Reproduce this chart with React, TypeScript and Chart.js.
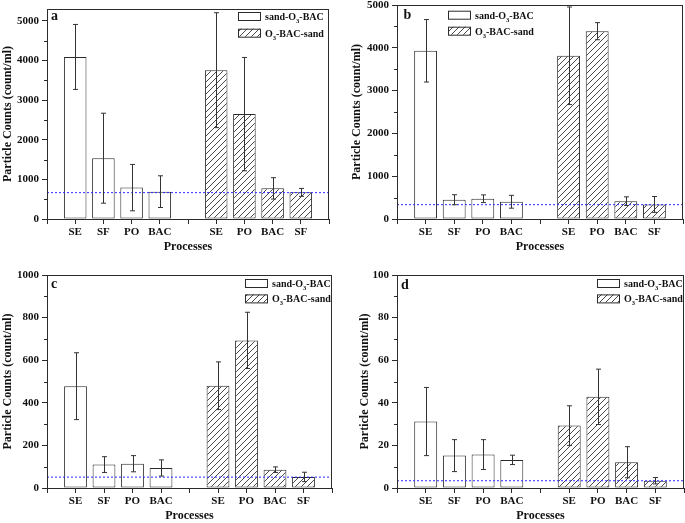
import React, { useEffect, useRef } from 'react';
import { Chart, registerables } from 'chart.js';
Chart.register(...registerables);

// ---------- data ----------
const categories = ['SE', 'SF', 'PO', 'BAC', 'SE', 'PO', 'BAC', 'SF'];
const seriesNames = ['sand-O3-BAC', 'O3-BAC-sand'];
const panelLabels = ['a', 'b', 'c', 'd'];
const yTitle = 'Particle Counts (count/ml)';
const xTitle = 'Processes';

const aSand = [4090, 1535, 792, 690];
const aSandErr = [820, 1135, 585, 400];
const aO3 = [3756, 2647, 773, 672];
const aO3Err = [1450, 1430, 270, 100];
const aLimit = 665;
const aTicks = [0, 1000, 2000, 3000, 4000, 5000];

const bSand = [3930, 450, 473, 403];
const bSandErr = [730, 117, 90, 150];
const bO3 = [3814, 4388, 417, 340];
const bO3Err = [1140, 200, 100, 185];
const bLimit = 335;
const bTicks = [0, 1000, 2000, 3000, 4000, 5000];

const cSand = [478, 110, 114, 94];
const cSandErr = [157, 37, 38, 38];
const cO3 = [480, 693, 86, 52];
const cO3Err = [112, 132, 13, 22];
const cLimit = 51;
const cTicks = [0, 200, 400, 600, 800, 1000];

const dSand = [31.2, 15.2, 15.7, 13.2];
const dSandErr = [16, 7.5, 7, 2.2];
const dO3 = [29.3, 42.8, 12.1, 3.4];
const dO3Err = [9.3, 13, 7.3, 1.5];
const dLimit = 3.4;
const dTicks = [0, 20, 40, 60, 80, 100];

// x positions: blank, 4 sand categories, blank, 4 O3 categories, blank
const xLabels = ['', ...categories.slice(0, 4), '', ...categories.slice(4), ''];
const padSand = (arr: number[]) => [null, ...arr, null, null, null, null, null, null];
const padO3 = (arr: number[]) => [null, null, null, null, null, null, ...arr, null];

const FONT = "'Liberation Serif', 'Times New Roman', serif";
const INK = '#2b2b2b';

const panels = [
  {
    label: panelLabels[0], sand: aSand, sandErr: aSandErr, o3: aO3, o3Err: aO3Err, limit: aLimit,
    ticks: aTicks, yMax: 5300,
    box: { x: 0, y: 0, w: 342, h: 260 }, area: { l: 47, t: 9, r: 329, b: 219 },
    yTitlePad: 1, xTitlePad: 5.8, legend: { x: 238, y: 12, dy: 16.7 }, tag: { x: 51, y: 19.5 },
  },
  {
    label: panelLabels[1], sand: bSand, sandErr: bSandErr, o3: bO3, o3Err: bO3Err, limit: bLimit,
    ticks: bTicks, yMax: 5000,
    box: { x: 342, y: 0, w: 343, h: 260 }, area: { l: 55, t: 5, r: 341, b: 219 },
    yTitlePad: 7.3, xTitlePad: 5.5, legend: { x: 106, y: 10.7, dy: 16 }, tag: { x: 61.5, y: 19 },
  },
  {
    label: panelLabels[2], sand: cSand, sandErr: cSandErr, o3: cO3, o3Err: cO3Err, limit: cLimit,
    ticks: cTicks, yMax: 1000,
    box: { x: 0, y: 260, w: 342, h: 263 }, area: { l: 47, t: 15, r: 332, b: 228 },
    yTitlePad: 1, xTitlePad: 0, legend: { x: 245, y: 19, dy: 15.4 }, tag: { x: 51, y: 27.5 },
  },
  {
    label: panelLabels[3], sand: dSand, sandErr: dSandErr, o3: dO3, o3Err: dO3Err, limit: dLimit,
    ticks: dTicks, yMax: 100,
    box: { x: 342, y: 260, w: 343, h: 263 }, area: { l: 55, t: 15, r: 342, b: 228 },
    yTitlePad: 15.8, xTitlePad: 0, legend: { x: 255, y: 19, dy: 15.4 }, tag: { x: 59, y: 29 },
  },
];

function makeHatch(): CanvasPattern | string {
  const c = document.createElement('canvas');
  c.width = 6;
  c.height = 6;
  const g = c.getContext('2d');
  if (!g) return '#fff';
  g.fillStyle = '#fff';
  g.fillRect(0, 0, 6, 6);
  g.strokeStyle = '#333';
  g.lineWidth = 0.9;
  g.beginPath();
  g.moveTo(0, 6); g.lineTo(6, 0);
  g.moveTo(-1, 1); g.lineTo(1, -1);
  g.moveTo(5, 7); g.lineTo(7, 5);
  g.stroke();
  const pat = g.createPattern(c, 'repeat');
  return pat || '#fff';
}

function drawName(ctx: CanvasRenderingContext2D, name: string, x: number, y: number) {
  // render "O3" with subscript 3
  const parts = name.split('O3');
  let cx = x;
  parts.forEach((part, i) => {
    ctx.font = `bold 10px ${FONT}`;
    ctx.fillText(part, cx, y);
    cx += ctx.measureText(part).width;
    if (i < parts.length - 1) {
      ctx.fillText('O', cx, y);
      cx += ctx.measureText('O').width;
      ctx.font = `bold 6.5px ${FONT}`;
      ctx.fillText('3', cx, y + 3);
      cx += ctx.measureText('3').width;
    }
  });
}

// error bars drawn through the y scale
const errorBars = {
  id: 'errorBars',
  afterDatasetsDraw(chart: any) {
    const ctx = chart.ctx;
    const ys = chart.scales.y;
    ctx.save();
    chart.data.datasets.forEach((ds: any, i: number) => {
      if (!ds.errors) return;
      const meta = chart.getDatasetMeta(i);
      meta.data.forEach((el: any, j: number) => {
        const v = ds.data[j];
        const e = ds.errors[j];
        if (v == null || e == null) return;
        const x = Math.round(el.x) + 0.5;
        const yt = ys.getPixelForValue(v + e);
        const yb = ys.getPixelForValue(Math.max(v - e, 0));
        ctx.strokeStyle = '#333';
        ctx.lineWidth = 1;
        ctx.beginPath();
        ctx.moveTo(x, yt); ctx.lineTo(x, yb);
        ctx.moveTo(x - 2.5, yt); ctx.lineTo(x + 2.5, yt);
        ctx.moveTo(x - 2.5, yb); ctx.lineTo(x + 2.5, yb);
        ctx.stroke();
      });
    });
    ctx.restore();
  },
};

const decor = {
  id: 'decor',
  afterDraw(chart: any) {
    const p = chart.options.plugins.decor;
    const ctx = chart.ctx;
    const a = chart.chartArea;
    const ys = chart.scales.y;
    ctx.save();
    // frame
    ctx.strokeStyle = INK;
    ctx.lineWidth = 1;
    ctx.strokeRect(a.left + 0.5, a.top + 0.5, a.right - a.left - 1, a.bottom - a.top);
    // minor ticks
    ctx.beginPath();
    const ticks: number[] = p.ticks;
    for (let k = 0; k < ticks.length - 1; k++) {
      const v = (ticks[k] + ticks[k + 1]) / 2;
      const y = Math.round(ys.getPixelForValue(v)) + 0.5;
      ctx.moveTo(a.left - 3, y);
      ctx.lineTo(a.left, y);
    }
    ctx.stroke();
    // panel tag
    ctx.fillStyle = '#111';
    ctx.font = `bold 14px ${FONT}`;
    ctx.textBaseline = 'alphabetic';
    ctx.fillText(p.label, p.tag.x, p.tag.y);
    // legend
    const fills = [p.plain, p.hatch];
    seriesNames.forEach((name, i) => {
      const bx = p.legend.x;
      const by = p.legend.y + i * p.legend.dy;
      ctx.fillStyle = fills[i];
      ctx.fillRect(bx, by, 22, 8);
      ctx.strokeStyle = INK;
      ctx.strokeRect(bx + 0.5, by + 0.5, 22, 8);
      ctx.fillStyle = '#111';
      ctx.textBaseline = 'alphabetic';
      drawName(ctx, name, bx + 27, by + 8);
    });
    ctx.restore();
  },
};

function Panel({ p }: { p: any }) {
  const ref = useRef<HTMLCanvasElement>(null);
  useEffect(() => {
    const canvas = ref.current;
    if (!canvas) return;
    const hatch = makeHatch();
    const tickFont = { family: FONT, weight: 'bold' as const, size: 11 };
    const titleFont = { family: FONT, weight: 'bold' as const, size: 12 };
    const chart = new Chart(canvas, {
      type: 'bar',
      data: {
        labels: xLabels,
        datasets: [
          {
            type: 'line',
            label: 'limit',
            data: xLabels.map(() => p.limit),
            borderColor: '#2a2aff',
            borderWidth: 1,
            borderDash: [2, 2],
            pointRadius: 0,
            fill: false,
            order: 0,
          } as any,
          {
            label: seriesNames[0],
            data: padSand(p.sand),
            errors: padSand(p.sandErr),
            backgroundColor: '#ffffff',
            borderColor: INK,
            borderWidth: 1,
            borderSkipped: false,
            grouped: false,
            barPercentage: 0.8,
            categoryPercentage: 1,
            order: 1,
          } as any,
          {
            label: seriesNames[1],
            data: padO3(p.o3),
            errors: padO3(p.o3Err),
            backgroundColor: hatch,
            borderColor: INK,
            borderWidth: 1,
            borderSkipped: false,
            grouped: false,
            barPercentage: 0.8,
            categoryPercentage: 1,
            order: 1,
          } as any,
        ],
      },
      options: {
        responsive: false,
        animation: false,
        devicePixelRatio: 1,
        layout: { padding: { left: 0, top: p.area.t, right: p.box.w - p.area.r, bottom: 0 } },
        plugins: {
          legend: { display: false },
          tooltip: { enabled: false },
          decor: { ...p, hatch, plain: '#ffffff' },
        } as any,
        scales: {
          x: {
            type: 'category',
            offset: false,
            grid: { display: true, drawOnChartArea: false, drawTicks: true, tickLength: 5, color: INK, offset: false },
            border: { display: true, color: INK, width: 1 },
            ticks: { autoSkip: false, maxRotation: 0, minRotation: 0, padding: 2, color: '#111', font: tickFont },
            title: { display: true, text: xTitle, color: '#111', font: titleFont, padding: { top: 0, bottom: p.xTitlePad } },
            afterFit: (s: any) => {
              s.height = p.box.h - p.area.b;
              s.paddingLeft = 0;
              s.paddingRight = 0;
            },
          },
          y: {
            type: 'linear',
            min: 0,
            max: p.yMax,
            grid: { display: true, drawOnChartArea: false, drawTicks: true, tickLength: 5, color: INK },
            border: { display: true, color: INK, width: 1 },
            ticks: { padding: 3, color: '#111', font: tickFont, callback: (v: any) => String(v) },
            afterBuildTicks: (s: any) => {
              s.ticks = p.ticks.map((v: number) => ({ value: v }));
            },
            title: { display: true, text: yTitle, color: '#111', font: titleFont, padding: { top: p.yTitlePad, bottom: 0 } },
            afterFit: (s: any) => {
              s.width = p.area.l;
              s.paddingTop = 0;
              s.paddingBottom = 0;
            },
          },
        },
      } as any,
      plugins: [errorBars, decor],
    });
    return () => chart.destroy();
  }, []);
  return (
    <div style={{ position: 'absolute', left: p.box.x, top: p.box.y, width: p.box.w, height: p.box.h }}>
      <canvas ref={ref} width={p.box.w} height={p.box.h} style={{ width: p.box.w, height: p.box.h, display: 'block' }} />
    </div>
  );
}

export default function App() {
  return (
    <div style={{ position: 'fixed', left: 0, top: 0, width: 685, height: 523, background: '#fff', overflow: 'hidden' }}>
      {panels.map((p) => (
        <Panel key={p.label} p={p} />
      ))}
    </div>
  );
}
